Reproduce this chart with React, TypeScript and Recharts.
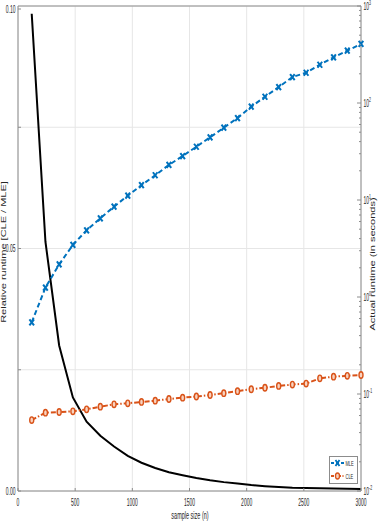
import React from "react";
import {
  ComposedChart,
  Line,
  XAxis,
  YAxis,
  CartesianGrid,
  Legend,
  ReferenceLine,
} from "recharts";

const sampleSizes = [
  120, 240, 360, 480, 600, 720, 840, 960, 1080, 1200, 1320, 1440, 1560,
  1680, 1800, 1920, 2040, 2160, 2280, 2400, 2520, 2640, 2760, 2880, 3000,
];
const mleSeconds = [
  0.548, 1.25, 2.17, 3.44, 4.87, 6.48, 8.53, 11.1, 14.2, 18.0, 23.0, 28.4,
  35.4, 44.3, 55.6, 70.0, 91.6, 116, 146, 185, 205, 248, 296, 346, 406,
];
const cleSeconds = [
  0.0539, 0.0642, 0.0652, 0.0663, 0.0695, 0.074, 0.0783, 0.0802, 0.0828,
  0.0853, 0.0888, 0.0917, 0.0942, 0.0977, 0.102, 0.107, 0.112, 0.116, 0.121,
  0.125, 0.128, 0.145, 0.151, 0.154, 0.157,
];
const relativeRuntime = [
  0.0984, 0.0514, 0.03, 0.0193, 0.0143, 0.0114, 0.00918, 0.00723, 0.00583,
  0.00474, 0.00386, 0.00323, 0.00266, 0.00221, 0.00183, 0.00153, 0.00122,
  0.001, 0.00083, 0.00068, 0.00062, 0.00058, 0.00051, 0.00045, 0.00039,
];

const xTicks = [0, 500, 1000, 1500, 2000, 2500, 3000];
const leftTicks = [0, 0.025, 0.05, 0.075, 0.1];
const leftLabels = ["0.00", "", "0.05", "", "0.10"];
const rightDecades = [-2, -1, 0, 1, 2, 3];

const rightTicks: number[] = [];
rightDecades.forEach((e) => {
  rightTicks.push(Math.pow(10, e));
  if (e < 3) for (let m = 2; m <= 9; m++) rightTicks.push(m * Math.pow(10, e));
});

const data = sampleSizes.map((n, i) => ({
  n,
  mle: mleSeconds[i],
  cle: cleSeconds[i],
  ratio: relativeRuntime[i],
}));

const BLUE = "#0072BD";
const ORANGE = "#D95319";
const AXIS = "#8c8c8c";
const TEXT = "#262626";
const FONT = "Arial, 'Liberation Sans', sans-serif";

const XTick = ({ x, y, payload }: any) => (
  <g>
    <line x1={x} x2={x} y1={y} y2={y - 3} stroke={AXIS} />
    <text
      transform={`translate(${x},${y + 15}) scale(0.5,1)`}
      textAnchor="middle"
      fontSize={10}
      fontFamily={FONT}
      fill={TEXT}
    >
      {payload.value}
    </text>
  </g>
);

const LeftTick = ({ x, y, payload, index }: any) => {
  const i = leftTicks.indexOf(payload.value);
  return (
    <g>
      <line x1={x} x2={x + 3} y1={y} y2={y} stroke={AXIS} />
      <text
        transform={`translate(${x - 2.5},${y + 3.5}) scale(0.5,1)`}
        textAnchor="end"
        fontSize={10}
        fontFamily={FONT}
        fill={TEXT}
      >
        {leftLabels[i >= 0 ? i : index]}
      </text>
    </g>
  );
};

const RightTick = ({ x, y, payload }: any) => {
  const exp = Math.log10(payload.value);
  const major = Math.abs(exp - Math.round(exp)) < 1e-6;
  return (
    <g>
      <line x1={x} x2={x - (major ? 4 : 2)} y1={y} y2={y} stroke={AXIS} />
      {major && (
        <text
          transform={`translate(${x + 2.5},${y + 4}) scale(0.5,1)`}
          textAnchor="start"
          fontSize={10}
          fontFamily={FONT}
          fill={TEXT}
        >
          10
          <tspan dy={-5} fontSize={7}>
            {Math.round(exp)}
          </tspan>
        </text>
      )}
    </g>
  );
};

const MleDot = (props: any) => {
  const { cx, cy, index } = props;
  return (
    <path
      key={`mle-${index}`}
      d={`M${cx - 2.3},${cy - 3} L${cx + 2.3},${cy + 3} M${cx + 2.3},${cy - 3} L${cx - 2.3},${cy + 3}`}
      stroke={BLUE}
      strokeWidth={2}
      fill="none"
    />
  );
};

const CleDot = (props: any) => {
  const { cx, cy, index } = props;
  return (
    <ellipse
      key={`cle-${index}`}
      cx={cx}
      cy={cy}
      rx={2}
      ry={3.2}
      stroke={ORANGE}
      strokeWidth={1.4}
      fill="#f8d3c0"
    />
  );
};

const LegendBox = () => (
  <svg width={29} height={28} style={{ display: "block" }}>
    <rect x={0.5} y={0.5} width={28} height={27} fill="#fff" stroke={AXIS} />
    <line x1={2} x2={15} y1={7} y2={7} stroke={BLUE} strokeWidth={2} strokeDasharray="3 2" />
    <path d="M6.5,4 L10.5,10 M10.5,4 L6.5,10" stroke={BLUE} strokeWidth={1.8} />
    <text transform="translate(16.5,9.5) scale(0.5,1)" fontSize={8} fontFamily={FONT} fill={TEXT}>
      MLE
    </text>
    <line x1={2} x2={15} y1={20} y2={20} stroke={ORANGE} strokeWidth={2} strokeDasharray="3 1.5 1 1.5" />
    <ellipse cx={8.5} cy={20} rx={2} ry={3} stroke={ORANGE} strokeWidth={1.3} fill="#f8d3c0" />
    <text transform="translate(16.5,22.5) scale(0.5,1)" fontSize={8} fontFamily={FONT} fill={TEXT}>
      CLE
    </text>
  </svg>
);

export default function App() {
  return (
    <div style={{ position: "absolute", left: 0, top: 0, width: 381, height: 523, background: "#fff" }}>
      <ComposedChart
        width={381}
        height={523}
        data={data}
        margin={{ top: 6, right: 0, bottom: 0, left: 0 }}
      >
        <CartesianGrid yAxisId="left" stroke="#e6e6e6" strokeWidth={1} />
        <XAxis
          dataKey="n"
          type="number"
          domain={[0, 3000]}
          ticks={xTicks}
          height={32}
          stroke={AXIS}
          tickLine={false}
          tickSize={0}
          tickMargin={0}
          tick={<XTick />}
          label={{
            content: () => (
              <text
                transform="translate(190,519) scale(0.55,1)"
                textAnchor="middle"
                fontSize={10}
                fontFamily={FONT}
                fill={TEXT}
              >
                sample size (n)
              </text>
            ),
          }}
        />
        <YAxis
          yAxisId="left"
          domain={[0, 0.1]}
          ticks={leftTicks}
          width={18}
          stroke={AXIS}
          tickLine={false}
          tickSize={0}
          tickMargin={0}
          tick={<LeftTick />}
          label={{
            content: () => (
              <text
                transform="translate(4,252) scale(0.6,1) rotate(-90)"
                textAnchor="middle"
                dominantBaseline="central"
                fontSize={11}
                fontFamily={FONT}
                fill={TEXT}
              >
                Relative runtime [CLE / MLE]
              </text>
            ),
          }}
        />
        <YAxis
          yAxisId="right"
          orientation="right"
          scale="log"
          domain={[0.01, 1000]}
          allowDataOverflow
          ticks={rightTicks}
          interval={0}
          width={20}
          stroke={AXIS}
          tickLine={false}
          tickSize={0}
          tickMargin={0}
          tick={<RightTick />}
          label={{
            content: () => (
              <text
                transform="translate(372.5,264) scale(0.6,1) rotate(-90)"
                textAnchor="middle"
                dominantBaseline="central"
                fontSize={11}
                fontFamily={FONT}
                fill={TEXT}
              >
                Actual runtime (in seconds)
              </text>
            ),
          }}
        />
        <ReferenceLine yAxisId="left" y={0.1} stroke={AXIS} ifOverflow="visible" />
        <Line
          yAxisId="left"
          dataKey="ratio"
          stroke="#000"
          strokeWidth={2}
          dot={false}
          isAnimationActive={false}
          legendType="none"
        />
        <Line
          yAxisId="right"
          dataKey="mle"
          name="MLE"
          stroke={BLUE}
          strokeWidth={2}
          strokeDasharray="5 3"
          dot={MleDot}
          isAnimationActive={false}
        />
        <Line
          yAxisId="right"
          dataKey="cle"
          name="CLE"
          stroke={ORANGE}
          strokeWidth={2}
          strokeDasharray="5 2 1.5 2"
          dot={CleDot}
          isAnimationActive={false}
        />
        <Legend
          layout="horizontal"
          verticalAlign="middle"
          align="center"
          wrapperStyle={{ left: 329, top: 456, width: 29, height: 28 }}
          content={() => <LegendBox />}
        />
      </ComposedChart>
    </div>
  );
}
